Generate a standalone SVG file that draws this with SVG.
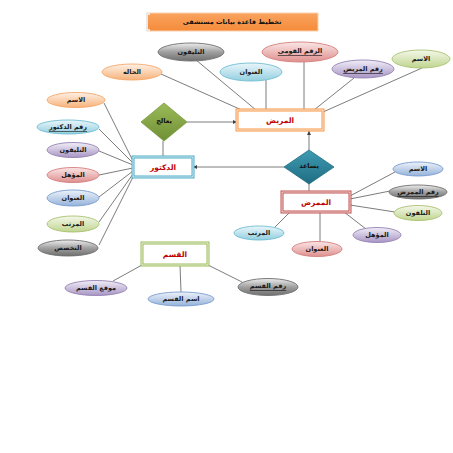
<svg xmlns="http://www.w3.org/2000/svg" width="453" height="453" viewBox="0 0 453 453">
<defs>
<linearGradient id="gGray" x1="0" y1="0" x2="0" y2="1"><stop offset="0" stop-color="#eeeeee"/><stop offset="0.5" stop-color="#a0a0a0"/><stop offset="1" stop-color="#6f6f6f"/></linearGradient>
<linearGradient id="gPink" x1="0" y1="0" x2="0" y2="1"><stop offset="0" stop-color="#fae6e6"/><stop offset="1" stop-color="#df8f8e"/></linearGradient>
<linearGradient id="gCyan" x1="0" y1="0" x2="0" y2="1"><stop offset="0" stop-color="#eaf6fa"/><stop offset="1" stop-color="#93cfe0"/></linearGradient>
<linearGradient id="gLav" x1="0" y1="0" x2="0" y2="1"><stop offset="0" stop-color="#f1eef6"/><stop offset="1" stop-color="#a895c5"/></linearGradient>
<linearGradient id="gGreen" x1="0" y1="0" x2="0" y2="1"><stop offset="0" stop-color="#f4f8ea"/><stop offset="1" stop-color="#c0d58f"/></linearGradient>
<linearGradient id="gOrange" x1="0" y1="0" x2="0" y2="1"><stop offset="0" stop-color="#fef1e6"/><stop offset="1" stop-color="#f7b27a"/></linearGradient>
<linearGradient id="gBlue" x1="0" y1="0" x2="0" y2="1"><stop offset="0" stop-color="#ecf2fa"/><stop offset="1" stop-color="#95b3da"/></linearGradient>
<linearGradient id="gDiaG" x1="0" y1="0" x2="0" y2="1"><stop offset="0" stop-color="#9bbb59"/><stop offset="1" stop-color="#6f8f35"/></linearGradient>
<linearGradient id="gDiaT" x1="0" y1="0" x2="0" y2="1"><stop offset="0" stop-color="#3e9bb3"/><stop offset="1" stop-color="#1f6d82"/></linearGradient>
<linearGradient id="gTitle" x1="0" y1="0" x2="0" y2="1"><stop offset="0" stop-color="#f9a35f"/><stop offset="1" stop-color="#f58b3a"/></linearGradient>
<marker id="arr" viewBox="0 0 10 10" refX="10" refY="5" markerWidth="5" markerHeight="5" orient="auto"><path d="M0,0 L10,5 L0,10 z" fill="#404040"/></marker>
</defs>
<style>
.ln{stroke:#5a5a5a;stroke-width:0.8;fill:none}
.at{font-family:"DejaVu Sans",sans-serif;font-size:6.5px;font-weight:bold;fill:#1a1a1a;text-anchor:middle;dominant-baseline:central}
.u{text-decoration:underline}
.en{font-family:"DejaVu Sans",sans-serif;font-size:7.5px;font-weight:bold;fill:#c00000;text-anchor:middle;dominant-baseline:central}
.rl{font-family:"DejaVu Sans",sans-serif;font-size:6.5px;font-weight:bold;fill:#111;text-anchor:middle;dominant-baseline:central}
.e1{stroke-width:0.9}
</style>
<rect width="453" height="453" fill="#ffffff"/>

<g id="title">
<rect x="147" y="13" width="171" height="18" fill="url(#gTitle)" stroke="#fbd2b0" stroke-width="1"/>
<path d="M150,14 L147,14 L147,30 L150,30" fill="none" stroke="#e8e8e8" stroke-width="2"/>
<text x="232" y="22" class="rl" font-size="7.5px">تخطيط قاعدة بيانات مستشفى</text>
</g>

<g id="connectors">
<line class="ln" x1="196" y1="60" x2="256" y2="110"/>
<line class="ln" x1="161" y1="74" x2="244" y2="111"/>
<line class="ln" x1="266" y1="80" x2="266" y2="110"/>
<line class="ln" x1="304" y1="62" x2="304" y2="110"/>
<line class="ln" x1="354" y1="78" x2="314" y2="110"/>
<line class="ln" x1="422" y1="68" x2="323" y2="112"/>
<line class="ln" x1="187" y1="122" x2="237" y2="122" marker-end="url(#arr)" stroke="#404040"/>
<line class="ln" x1="163" y1="141" x2="163" y2="157"/>
<line class="ln" x1="284" y1="167" x2="193" y2="167" marker-end="url(#arr)" stroke="#404040"/>
<line class="ln" x1="309" y1="150" x2="309" y2="131" marker-end="url(#arr)" stroke="#404040"/>
<line class="ln" x1="309" y1="183" x2="309" y2="192"/>
<line class="ln" x1="104" y1="103" x2="133" y2="161"/>
<line class="ln" x1="99" y1="129" x2="133" y2="163"/>
<line class="ln" x1="99" y1="151" x2="133" y2="165"/>
<line class="ln" x1="99" y1="175" x2="133" y2="168"/>
<line class="ln" x1="99" y1="197" x2="133" y2="171"/>
<line class="ln" x1="99" y1="222" x2="133" y2="174"/>
<line class="ln" x1="99" y1="245" x2="133" y2="177"/>
<line class="ln" x1="350" y1="196" x2="395" y2="172"/>
<line class="ln" x1="350" y1="199" x2="390" y2="191"/>
<line class="ln" x1="350" y1="205" x2="395" y2="212"/>
<line class="ln" x1="344" y1="212" x2="366" y2="229"/>
<line class="ln" x1="320" y1="212" x2="320" y2="242"/>
<line class="ln" x1="290" y1="212" x2="275" y2="227"/>
<line class="ln" x1="142" y1="265" x2="113" y2="281"/>
<line class="ln" x1="180" y1="265" x2="181" y2="292"/>
<line class="ln" x1="208" y1="265" x2="242" y2="282"/>
</g>

<g id="patient">
<rect x="237" y="110" width="86" height="20" fill="#fff" stroke="#f79646" stroke-width="3"/>
<rect x="237" y="110" width="86" height="20" fill="none" stroke="#fff" stroke-width="0.8"/>
<text x="280" y="120" class="en">المريض</text>
</g>
<g id="doctor">
<rect x="133" y="157" width="60" height="20" fill="#fff" stroke="#4bacc6" stroke-width="3"/>
<rect x="133" y="157" width="60" height="20" fill="none" stroke="#fff" stroke-width="0.8"/>
<text x="163" y="167" class="en">الدكتور</text>
</g>
<g id="nurse">
<rect x="282" y="192" width="68" height="20" fill="#fff" stroke="#c0504d" stroke-width="3"/>
<rect x="282" y="192" width="68" height="20" fill="none" stroke="#fff" stroke-width="0.8"/>
<text x="316" y="202" class="en">الممرض</text>
</g>
<g id="department">
<rect x="142" y="243" width="66" height="22" fill="#fff" stroke="#9bbb59" stroke-width="3"/>
<rect x="142" y="243" width="66" height="22" fill="none" stroke="#fff" stroke-width="0.8"/>
<text x="175" y="254" class="en">القسم</text>
</g>

<g id="treats">
<polygon points="164,103 187,122 164,141 141,122" fill="url(#gDiaG)" stroke="#7a9a3f" stroke-width="0.8"/>
<text x="164" y="121" class="rl">يعالج</text>
</g>
<g id="assists">
<polygon points="309,150 334,167 309,184 284,167" fill="url(#gDiaT)" stroke="#1f6d82" stroke-width="0.8"/>
<text x="309" y="166" class="rl">يساعد</text>
</g>

<g id="p-phone"><ellipse cx="191" cy="52" rx="33" ry="9" fill="url(#gGray)" stroke="#6f6f6f" class="e1"/><text x="191" y="52" class="at">التليفون</text></g>
<g id="p-status"><ellipse cx="132" cy="72" rx="30" ry="8" fill="url(#gOrange)" stroke="#f4a86b" class="e1"/><text x="132" y="72" class="at">الحاله</text></g>
<g id="p-address"><ellipse cx="251" cy="72" rx="31" ry="9" fill="url(#gCyan)" stroke="#6fbdd3" class="e1"/><text x="251" y="72" class="at">العنوان</text></g>
<g id="p-nid"><ellipse cx="300" cy="52" rx="38" ry="10" fill="url(#gPink)" stroke="#d47f7e" class="e1"/><text x="300" y="51" class="at u">الرقم القومى</text></g>
<g id="p-id"><ellipse cx="363" cy="69" rx="31" ry="9" fill="url(#gLav)" stroke="#9482b3" class="e1"/><text x="363" y="69" class="at u">رقم المريض</text></g>
<g id="p-name"><ellipse cx="421" cy="59" rx="29" ry="9" fill="url(#gGreen)" stroke="#a9c270" class="e1"/><text x="421" y="59" class="at">الاسم</text></g>

<g id="d-name"><ellipse cx="76" cy="100" rx="29" ry="7.5" fill="url(#gOrange)" stroke="#f4a86b" class="e1"/><text x="76" y="100" class="at">الاسم</text></g>
<g id="d-id"><ellipse cx="68" cy="127" rx="31" ry="7" fill="url(#gCyan)" stroke="#6fbdd3" class="e1"/><text x="68" y="127" class="at u">رقم الدكتور</text></g>
<g id="d-phone"><ellipse cx="73" cy="150" rx="26" ry="7.5" fill="url(#gLav)" stroke="#9482b3" class="e1"/><text x="73" y="150" class="at">التليفون</text></g>
<g id="d-qual"><ellipse cx="73" cy="175" rx="26" ry="7.5" fill="url(#gPink)" stroke="#d47f7e" class="e1"/><text x="73" y="175" class="at">المؤهل</text></g>
<g id="d-address"><ellipse cx="73" cy="198" rx="26" ry="8" fill="url(#gBlue)" stroke="#7b9dcf" class="e1"/><text x="73" y="198" class="at">العنوان</text></g>
<g id="d-salary"><ellipse cx="73" cy="224" rx="26" ry="8" fill="url(#gGreen)" stroke="#a9c270" class="e1"/><text x="73" y="224" class="at">المرتب</text></g>
<g id="d-spec"><ellipse cx="68" cy="248" rx="30" ry="8" fill="url(#gGray)" stroke="#6f6f6f" class="e1"/><text x="68" y="248" class="at">التخصص</text></g>

<g id="n-name"><ellipse cx="418" cy="169" rx="25" ry="7" fill="url(#gBlue)" stroke="#7b9dcf" class="e1"/><text x="418" y="169" class="at">الاسم</text></g>
<g id="n-id"><ellipse cx="418" cy="192" rx="29" ry="7" fill="url(#gGray)" stroke="#6f6f6f" class="e1"/><text x="418" y="192" class="at u">رقم الممرض</text></g>
<g id="n-phone"><ellipse cx="418" cy="213" rx="24" ry="7.5" fill="url(#gGreen)" stroke="#a9c270" class="e1"/><text x="418" y="213" class="at">التلفون</text></g>
<g id="n-qual"><ellipse cx="377" cy="235" rx="24" ry="7.5" fill="url(#gLav)" stroke="#9482b3" class="e1"/><text x="377" y="235" class="at">المؤهل</text></g>
<g id="n-address"><ellipse cx="317" cy="249" rx="25" ry="7.5" fill="url(#gPink)" stroke="#d47f7e" class="e1"/><text x="317" y="249" class="at">العنوان</text></g>
<g id="n-salary"><ellipse cx="259" cy="233" rx="25" ry="7" fill="url(#gCyan)" stroke="#6fbdd3" class="e1"/><text x="259" y="233" class="at">المرتب</text></g>

<g id="dep-loc"><ellipse cx="96" cy="288" rx="31" ry="7.5" fill="url(#gLav)" stroke="#9482b3" class="e1"/><text x="96" y="288" class="at">موقع القسم</text></g>
<g id="dep-name"><ellipse cx="181" cy="299" rx="33" ry="7" fill="url(#gBlue)" stroke="#7b9dcf" class="e1"/><text x="181" y="299" class="at">اسم القسم</text></g>
<g id="dep-id"><ellipse cx="268" cy="287" rx="30" ry="8.5" fill="url(#gGray)" stroke="#6f6f6f" class="e1"/><text x="268" y="286" class="at u">رقم القسم</text></g>
</svg>
